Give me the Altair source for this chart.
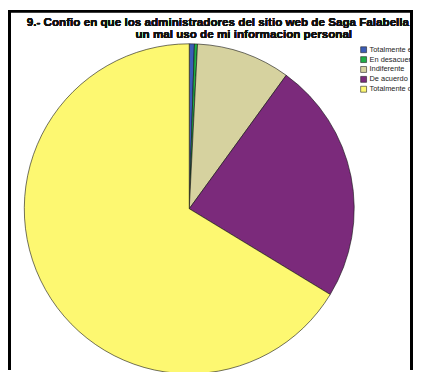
import altair as alt
import pandas as pd

categories = ["Totalmente en desacuerdo", "En desacuerdo", "Indiferente", "De acuerdo", "Totalmente de acuerdo"]
values = [0.5, 0.3, 9.2, 23.7, 66.3]
colors = ["#3b5cb5", "#1fae45", "#d6d29f", "#7b2a7b", "#fdf871"]
title_lines = [
    "9.- Confio en que los administradores del sitio web de Saga Falabella",
    "un mal uso de mi informacion personal",
]

W, H = 410, 364

df = pd.DataFrame({"cat": categories, "value": values, "idx": list(range(len(categories)))})

color_scale = alt.Scale(domain=categories, range=colors)

pie = alt.Chart(df).mark_arc(outerRadius=167, stroke="#111111", strokeWidth=0.6).encode(
    theta=alt.Theta("value:Q", stack=True),
    order=alt.Order("idx:Q"),
    color=alt.Color("cat:N", scale=color_scale, legend=None),
    x=alt.value(183.5),
    y=alt.value(201),
)

ypos = alt.Y("idx:Q", scale=alt.Scale(domain=[0, 4], range=[40, 80]), axis=None)

leg_sym = alt.Chart(df).mark_point(shape="square", filled=True, size=36, stroke="#222222", strokeWidth=0.6, opacity=1).encode(
    x=alt.value(360),
    y=ypos,
    color=alt.Color("cat:N", scale=color_scale, legend=None),
)

leg_txt = alt.Chart(df).mark_text(align="left", baseline="middle", fontSize=7.5, font="Liberation Sans",
                                  color="#222222").encode(
    x=alt.value(366),
    y=ypos,
    text="cat:N",
)

t1 = alt.Chart(df).mark_text(text=title_lines[0], align="left", baseline="alphabetic", fontSize=11.8,
                             fontWeight="bold", font="Liberation Sans", color="#111111").encode(
    x=alt.value(19), y=alt.value(16)
)
t2 = alt.Chart(df).mark_text(text=title_lines[1], align="left", baseline="alphabetic", fontSize=11.8,
                             fontWeight="bold", font="Liberation Sans", color="#111111").encode(
    x=alt.value(129), y=alt.value(28)
)

left_border = alt.Chart(df).mark_rule(color="black", strokeWidth=3).encode(
    x=alt.value(1.5), y=alt.value(0), y2=alt.value(H)
)
top_border = alt.Chart(df).mark_rule(color="black", strokeWidth=2).encode(
    x=alt.value(0), x2=alt.value(410), y=alt.value(1)
)
right_mask = alt.Chart(df).mark_rect(color="white").encode(
    x=alt.value(407), x2=alt.value(W), y=alt.value(0), y2=alt.value(H)
)
right_border = alt.Chart(df).mark_rule(color="black", strokeWidth=2.5).encode(
    x=alt.value(408.5), y=alt.value(0), y2=alt.value(H)
)

chart = alt.layer(pie, leg_sym, leg_txt, t1, t2, right_mask, left_border, top_border, right_border).properties(
    width=W, height=H, padding=0, autosize=alt.AutoSizeParams(type="none")
).configure_view(stroke=None)

chart.save("out.html", embed_options={"renderer": "svg", "actions": False})
